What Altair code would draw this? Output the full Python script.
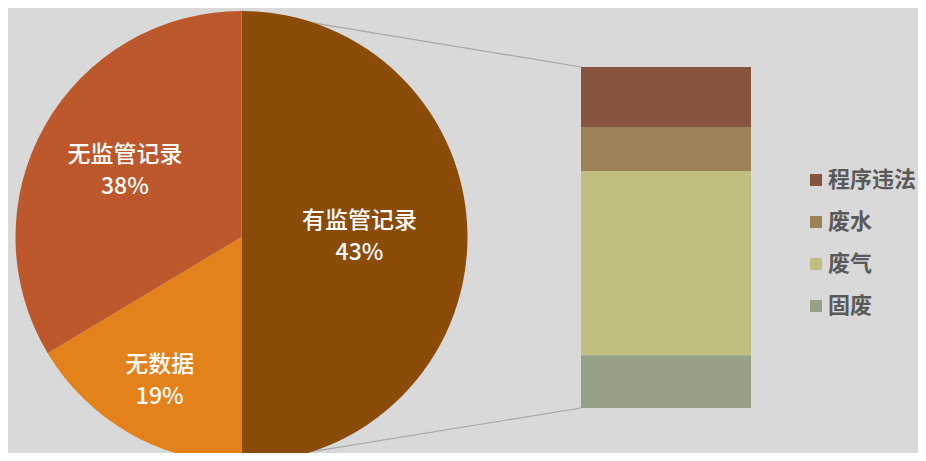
import altair as alt
import pandas as pd

# ---- data ----
pie_names = ["有监管记录", "无数据", "无监管记录"]
pie_labels = ["43%", "19%", "38%"]          # printed labels
pie_drawn = [50.0, 16.4, 33.6]              # angular share as drawn (percent of circle)
pie_colors = ["#8B4C0A", "#E3821A", "#BD582C"]
label_radius = [118, 166, 134]

bar_names = ["程序违法", "废水", "废气", "固废"]
bar_values = [17.6, 12.9, 54.0, 15.5]
bar_colors = ["#87553F", "#9B8357", "#C2BD80", "#95A087"]

FONT = "Noto Sans CJK SC"
BG = "#D9D9D9"

# ---- layout constants (pixels in chart space) ----
W, H = 910, 445
CX, CY, R = 233.5, 229, 226
BAR_X0, BAR_X1 = 573, 743
BAR_TOP, BAR_BOT = 59, 400
LEG_SYM_X, LEG_TXT_X = 808, 820
LEG_Y0, LEG_Y1 = 172, 298

pie_df = pd.DataFrame({
    "name": pie_names,
    "share": pie_drawn,
    "pct": pie_labels,
    "idx": list(range(len(pie_names))),
    "lr": label_radius,
})

bar_df = pd.DataFrame({
    "name": bar_names,
    "value": bar_values,
    "ord": [3, 2, 1, 0],
})

lines_df = pd.DataFrame({
    "x": [CX, CX],
    "y": [CY - R, CY + R],
    "x2": [BAR_X0, BAR_X0],
    "y2": [BAR_TOP, BAR_BOT],
})

pie = alt.Chart(pie_df).mark_arc(radius=R, stroke=None).encode(
    theta=alt.Theta("share:Q", stack=True),
    order=alt.Order("idx:Q"),
    color=alt.Color("name:N", scale=alt.Scale(domain=pie_names, range=pie_colors), legend=None),
    x=alt.value(CX),
    y=alt.value(CY),
)

txt_base = alt.Chart(pie_df).transform_window(
    cum="sum(share)", sort=[alt.SortField("idx", order="ascending")], frame=[None, 0]
).transform_calculate(
    ang="(datum.cum - datum.share / 2) / 100 * 2 * PI",
).transform_calculate(
    lx=f"{CX} + datum.lr * sin(datum.ang)",
    ly=f"{CY} - datum.lr * cos(datum.ang)",
).encode(
    x=alt.X("lx:Q", scale=None, axis=None),
    y=alt.Y("ly:Q", scale=None, axis=None),
)
name_txt = txt_base.mark_text(font=FONT, fontSize=23, fontWeight=500, color="white",
                              dy=-16, baseline="middle").encode(text="name:N")
pct_txt = txt_base.mark_text(font=FONT, fontSize=23, fontWeight=500, color="white",
                             dy=16, baseline="middle").encode(text="pct:N")

total = sum(bar_values)
bar_color = alt.Color("name:N", scale=alt.Scale(domain=bar_names, range=bar_colors), legend=None)

bar = alt.Chart(bar_df).transform_stack(
    stack="value", groupby=[], as_=["v0", "v1"], sort=[alt.SortField("ord", order="ascending")]
).mark_rect(stroke=None).encode(
    y=alt.Y("v0:Q", axis=None,
            scale=alt.Scale(domain=[0, total], range=[BAR_BOT, BAR_TOP], nice=False, zero=True)),
    y2="v1:Q",
    x=alt.value(BAR_X0),
    x2=alt.value(BAR_X1),
    color=bar_color,
)

leg_y = alt.Y("name:N", axis=None,
              scale=alt.Scale(type="point", domain=bar_names, range=[LEG_Y0, LEG_Y1], padding=0))
leg_sym = alt.Chart(bar_df).mark_square(size=144, opacity=1, strokeWidth=0).encode(
    y=leg_y, x=alt.value(LEG_SYM_X), color=bar_color,
)
leg_txt = alt.Chart(bar_df).mark_text(font=FONT, fontSize=22, fontWeight="bold", color="#595959",
                                      align="left", baseline="middle").encode(
    y=leg_y, x=alt.value(LEG_TXT_X), text="name:N",
)

lines = alt.Chart(lines_df).mark_rule(color="#A6A6A6", strokeWidth=1.2).encode(
    x=alt.X("x:Q", scale=None),
    y=alt.Y("y:Q", scale=None),
    x2="x2:Q",
    y2="y2:Q",
)

chart = alt.layer(lines, pie, name_txt, pct_txt, bar, leg_sym, leg_txt).resolve_scale(
    color="independent", y="independent", x="independent"
).properties(
    width=W, height=H,
    autosize=alt.AutoSizeParams(type="none"),
    padding=0,
    background=BG,
).configure_view(stroke=None)

chart.save("out.html", embed_options={"renderer": "svg", "actions": False})
